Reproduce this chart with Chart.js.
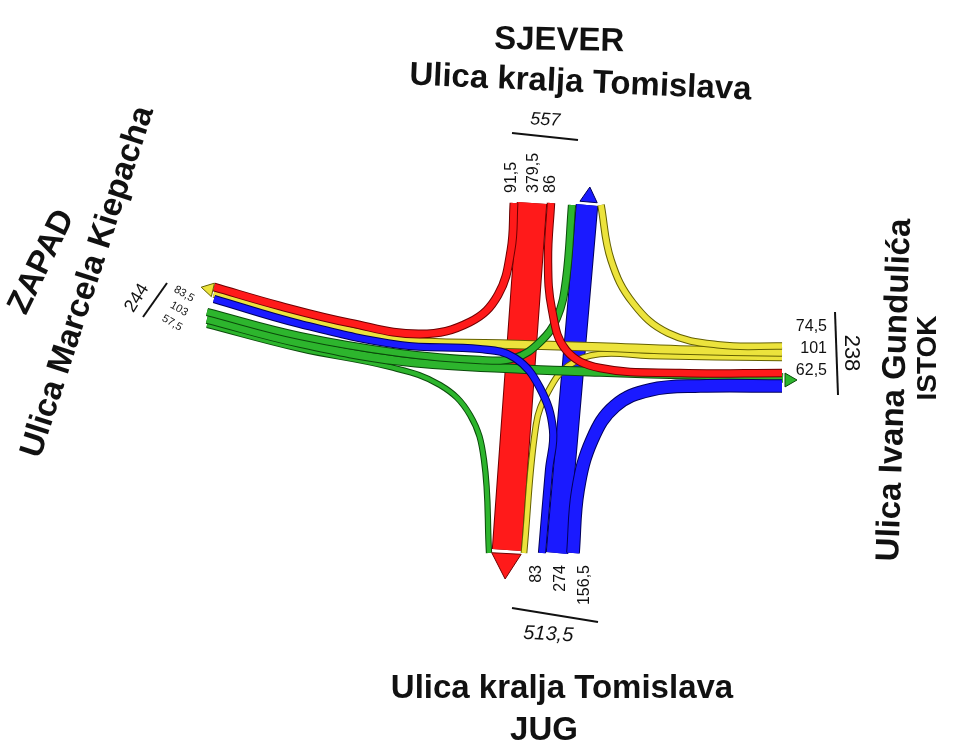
<!DOCTYPE html>
<html>
<head>
<meta charset="utf-8">
<title>Raskrižje - prometno opterećenje</title>
<script src="https://cdn.jsdelivr.net/npm/chart.js@4.4.0/dist/chart.umd.min.js"></script>
<style>
    html, body { margin: 0; padding: 0; background: #ffffff; }
    #wrap { width: 972px; height: 742px; }
</style>
</head>
<body>
<div id="wrap"><canvas id="flowChart" width="972" height="742"></canvas></div>
<script>
// Counted volumes (voz/h)
const legNames = ['SJEVER', 'JUG', 'ZAPAD', 'ISTOK'];
const streetNames = ['Ulica kralja Tomislava', 'Ulica kralja Tomislava', 'Ulica Marcela Kiepacha', 'Ulica Ivana Gundulića'];
const legTotals = [557, 513.5, 244, 238];

const northVolumes = [91.5, 379.5, 86];   // to W, to S, to E
const southVolumes = [83, 274, 156.5];    // to W, to N, to E
const westVolumes = [83.5, 103, 57.5];    // to N, to E, to S
const eastVolumes = [74.5, 101, 62.5];    // to N, to W, to S

const K = 0.075; // band width (px) per vehicle

// colours per approach
const fillColors = { N: '#ff1a1a', S: '#1a1aff', W: '#2db52d', E: '#ece33c' };
const edgeColors = { N: '#6e0000', S: '#00005c', W: '#0b4a0b', E: '#646000' };

// route centre lines (diagram layout, x/y in canvas units)
const routes = {
    'N-S': [[532, 203], [507, 550]],
    'S-N': [[557, 553], [587, 205]],
    'E-S': [[782, 358], [650, 356], [600, 354], [568, 366], [548, 392], [536, 425], [524, 553]],
    'E-W': [[782, 352], [680, 350], [600, 347], [500, 344], [400, 340], [300, 318], [214, 293]],
    'E-N': [[782, 346], [720, 345], [668, 333], [633, 303], [611, 260], [601, 205]],
    'W-S': [[207, 325], [300, 349], [390, 367], [440, 385], [470, 415], [484, 460], [489, 553]],
    'W-E': [[207, 319], [300, 343], [400, 361], [500, 368], [600, 372], [700, 375], [783, 378]],
    'W-N': [[207, 312], [300, 336], [400, 353], [480, 360], [515, 358], [540, 342], [557, 318], [566, 280], [572, 205]],
    'N-W': [[514, 203], [511, 250], [498, 295], [470, 322], [420, 334], [350, 323], [280, 306], [214, 287]],
    'N-E': [[551, 203], [548, 260], [552, 310], [566, 350], [600, 368], [680, 373], [782, 373]],
    'S-W': [[542, 553], [549, 470], [553, 430], [540, 388], [515, 358], [480, 349], [400, 345], [300, 324], [214, 299]],
    'S-E': [[573, 553], [578, 490], [592, 440], [615, 406], [650, 390], [700, 386], [782, 386]]
};

// bottom to top
const drawOrder = [
    ['N-S', 'N', northVolumes[1]],
    ['S-N', 'S', southVolumes[1]],
    ['E-S', 'E', eastVolumes[2]],
    ['E-W', 'E', eastVolumes[1]],
    ['E-N', 'E', eastVolumes[0]],
    ['W-S', 'W', westVolumes[2]],
    ['W-E', 'W', westVolumes[1]],
    ['W-N', 'W', westVolumes[0]],
    ['N-W', 'N', northVolumes[0]],
    ['N-E', 'N', northVolumes[2]],
    ['S-W', 'S', southVolumes[0]],
    ['S-E', 'S', southVolumes[2]]
];

// arrow heads at the exits
const arrowHeads = [
    { x: 506, y: 562, r: 17, rot: 183, leg: 'N' },
    { x: 589, y: 197, r: 10, rot: 5, leg: 'S' },
    { x: 209, y: 289, r: 8, rot: 283, leg: 'E' },
    { x: 789, y: 380, r: 8, rot: 90, leg: 'W' }
];

function fmt(v) {
    return String(v).replace('.', ',');
}

const datasets = [];
drawOrder.forEach(function (f) {
    const pts = routes[f[0]].map(function (p) { return { x: p[0], y: p[1] }; });
    const w = f[2] * K;
    // dark edge first, then the coloured band
    datasets.push({
        data: pts, showLine: true, pointRadius: 0, tension: 0.4,
        borderColor: edgeColors[f[1]], borderWidth: w + 2, borderCapStyle: 'butt'
    });
    datasets.push({
        data: pts, showLine: true, pointRadius: 0, tension: 0.4,
        borderColor: fillColors[f[1]], borderWidth: w, borderCapStyle: 'butt'
    });
});

datasets.push({
    data: arrowHeads.map(function (a) { return { x: a.x, y: a.y }; }),
    showLine: false,
    pointStyle: 'triangle',
    pointRadius: arrowHeads.map(function (a) { return a.r; }),
    pointRotation: arrowHeads.map(function (a) { return a.rot; }),
    pointBackgroundColor: arrowHeads.map(function (a) { return fillColors[a.leg]; }),
    pointBorderColor: arrowHeads.map(function (a) { return edgeColors[a.leg]; }),
    pointBorderWidth: 1
});

// later datasets on top
datasets.forEach(function (d, i) { d.order = datasets.length - i; });

const FONT = '"Liberation Sans", Arial, sans-serif';

const labelsPlugin = {
    id: 'legLabels',
    afterDatasetsDraw(chart) {
        const ctx = chart.ctx;
        const sx = chart.scales.x, sy = chart.scales.y;

        function text(str, x, y, font, deg, align, baseline) {
            ctx.save();
            ctx.translate(sx.getPixelForValue(x), sy.getPixelForValue(y));
            ctx.rotate((deg || 0) * Math.PI / 180);
            ctx.font = font;
            ctx.fillStyle = '#111111';
            ctx.textAlign = align || 'center';
            ctx.textBaseline = baseline || 'alphabetic';
            ctx.fillText(str, 0, 0);
            ctx.restore();
        }
        function line(x1, y1, x2, y2) {
            ctx.save();
            ctx.strokeStyle = '#111111';
            ctx.lineWidth = 2;
            ctx.beginPath();
            ctx.moveTo(sx.getPixelForValue(x1), sy.getPixelForValue(y1));
            ctx.lineTo(sx.getPixelForValue(x2), sy.getPixelForValue(y2));
            ctx.stroke();
            ctx.restore();
        }

        const big = 'bold 33px ' + FONT;
        const num = '16px ' + FONT;

        // SJEVER
        text(legNames[0], 559, 50, big, 1);
        text(streetNames[0], 580, 92, big, 2.5);
        text(fmt(legTotals[0]), 545, 125, 'italic 18px ' + FONT, 3);
        line(512, 133, 578, 140);
        [512, 534, 551].forEach(function (x, i) {
            text(fmt(northVolumes[i]), x, 193, num, -90, 'left', 'middle');
        });

        // JUG
        [537, 561, 585].forEach(function (x, i) {
            text(fmt(southVolumes[i]), x, 565, num, -90, 'right', 'middle');
        });
        line(512, 608, 598, 622);
        text(fmt(legTotals[1]), 548, 640, 'italic 20px ' + FONT, 3);
        text(streetNames[1], 562, 698, big, 0);
        text(legNames[1], 544, 740, big, 0);

        // ZAPAD
        text(legNames[2], 42, 262, big, -64, 'center', 'middle');
        text(streetNames[2], 88, 282, big, -72, 'center', 'middle');
        text(fmt(legTotals[2]), 137, 298, '18px ' + FONT, -58, 'center', 'middle');
        line(143, 317, 167, 283);
        [[184, 294], [179, 309], [172, 323]].forEach(function (p, i) {
            text(fmt(westVolumes[i]), p[0], p[1], '11px ' + FONT, 30, 'center', 'middle');
        });

        // ISTOK
        [331, 353, 375].forEach(function (y, i) {
            text(fmt(eastVolumes[i]), 827, y, num, 0, 'right');
        });
        line(835, 312, 838, 395);
        text(fmt(legTotals[3]), 851, 353, '22px ' + FONT, 90, 'center', 'middle');
        text(streetNames[3], 895, 390, big, -88, 'center', 'middle');
        text(legNames[3], 928, 358, 'bold 28px ' + FONT, -90, 'center', 'middle');
    }
};

document.addEventListener('DOMContentLoaded', function () {
    const ctx = document.getElementById('flowChart').getContext('2d');

    new Chart(ctx, {
        type: 'scatter',
        data: { datasets: datasets },
        options: {
            responsive: false,
            animation: false,
            layout: { padding: 0, autoPadding: false },
            scales: {
                x: { type: 'linear', min: 0, max: 972, display: false },
                y: { type: 'linear', min: 0, max: 742, reverse: true, display: false }
            },
            plugins: {
                legend: { display: false },
                tooltip: { enabled: false },
                title: { display: false }
            }
        },
        plugins: [labelsPlugin]
    });
});
</script>
</body>
</html>
